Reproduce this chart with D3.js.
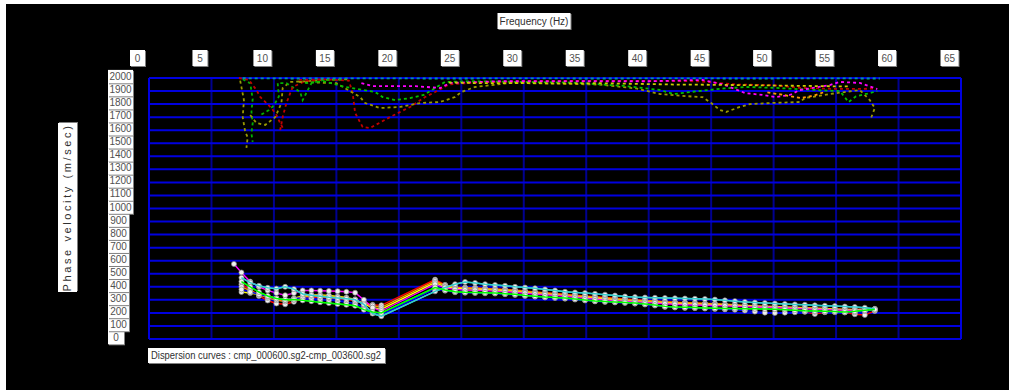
<!DOCTYPE html>
<html>
<head>
<meta charset="utf-8">
<script src="https://cdn.jsdelivr.net/npm/d3@7/dist/d3.min.js"></script>
<style>
  html, body { margin: 0; padding: 0; background: #fff; }
  svg { display: block; }
  text { font-family: "Liberation Sans Narrow", "Liberation Sans", Arial, sans-serif; }
</style>
</head>
<body>
<script>
// ---- axis ticks ----
const xTicks = [0, 5, 10, 15, 20, 25, 30, 35, 40, 45, 50, 55, 60, 65];
const yTicks = [0, 100, 200, 300, 400, 500, 600, 700, 800, 900, 1000,
                1100, 1200, 1300, 1400, 1500, 1600, 1700, 1800, 1900, 2000];

// ---- fundamental-mode dispersion curves (one per CMP) ----
const lowFreq = [6.8, 7.4, 8.1, 8.8, 9.5, 10.2, 10.9, 11.6, 12.3, 13.0, 13.7, 14.4, 15.1, 15.8, 16.5, 17.2, 17.9, 18.6];
const highFreq = [22.9, 23.7, 24.5, 25.3, 26.1, 26.9, 27.7, 28.5, 29.3, 30.1, 30.9, 31.7, 32.5, 33.3, 34.1,
                  34.9, 35.7, 36.5, 37.3, 38.1, 38.9, 39.7, 40.5, 41.3, 42.1, 42.9, 43.7, 44.5, 45.3, 46.1,
                  46.9, 47.7, 48.5, 49.3, 50.1, 50.9, 51.7, 52.5, 53.3, 54.1, 54.9, 55.7, 56.5, 57.3, 58.1];

const cmpNames = ["cmp_000600", "cmp_001100", "cmp_001600", "cmp_002100", "cmp_003100", "cmp_003600", "cmp_002600"];
const cmpColors = ["#ff0000", "#ff9900", "#ffff00", "#ff00ff", "#0000ff", "#33cccc", "#00ff00"];

const lowVel = [
  [null, 420, 380, 330, 295, 272, 266, 285, 310, 318, 320, 316, 310, 304, 292, 275, 262, 258],
  [null, 400, 370, 340, 315, 298, 288, 300, 322, 330, 330, 325, 318, 310, 298, 272, 255, 243],
  [null, 360, 352, 342, 328, 312, 302, 312, 330, 338, 338, 334, 326, 318, 304, 268, 240, 228],
  [575, 510, 440, 400, 372, 352, 335, 352, 372, 372, 370, 368, 366, 362, 355, 300, 240, 214],
  [null, 380, 360, 342, 325, 310, 300, 310, 315, 310, 305, 298, 290, 282, 272, 240, 200, 186],
  [null, 470, 432, 408, 392, 386, 400, 382, 345, 336, 328, 320, 314, 308, 300, 265, 195, 175],
  [null, 440, 400, 360, 330, 310, 300, 302, 296, 290, 282, 275, 268, 262, 255, 225, 207, 200]
];

const highVel = [
  [455, 415, 398, 394, 392, 388, 384, 380, 375, 368, 361, 355, 349, 343, 336, 330, 324, 318, 312, 306, 301, 297, 292, 286, 282,
   279, 276, 272, 268, 263, 258, 253, 248, 243, 238, 232, 225, 210, 192, 205, 215, 205, 190, 184, 215],
  [445, 410, 395, 392, 390, 386, 382, 378, 372, 365, 358, 352, 346, 340, 332, 326, 320, 314, 308, 302, 298, 294, 290, 284, 280,
   278, 275, 272, 270, 266, 262, 258, 255, 252, 249, 246, 243, 240, 237, 234, 231, 228, 226, 228, 230],
  [432, 400, 388, 384, 382, 378, 374, 370, 364, 357, 350, 344, 338, 332, 324, 318, 312, 306, 300, 295, 290, 286, 282, 276, 272,
   270, 267, 265, 262, 259, 256, 253, 250, 247, 245, 242, 239, 236, 233, 230, 227, 224, 222, 225, 228],
  [420, 392, 380, 376, 374, 371, 367, 363, 358, 351, 345, 339, 334, 328, 320, 313, 306, 300, 294, 289, 285, 281, 276, 270, 266,
   263, 261, 259, 257, 254, 251, 248, 245, 243, 241, 238, 235, 232, 229, 226, 223, 220, 218, 222, 227],
  [385, 370, 358, 354, 352, 350, 348, 343, 338, 330, 324, 318, 314, 309, 302, 295, 288, 284, 280, 276, 271, 264, 256, 246, 241,
   238, 236, 233, 230, 227, 224, 218, 210, 202, 200, 202, 205, 208, 208, 207, 205, 203, 204, 215, 222],
  [365, 395, 420, 437, 430, 420, 414, 408, 400, 394, 388, 380, 372, 362, 357, 352, 346, 340, 333, 326, 321, 318, 316, 314, 312,
   310, 308, 306, 302, 296, 290, 284, 279, 275, 272, 268, 265, 262, 258, 255, 252, 249, 245, 240, 231],
  [395, 375, 362, 358, 356, 354, 352, 347, 342, 334, 328, 322, 318, 314, 306, 299, 292, 288, 284, 280, 275, 268, 260, 250, 245,
   243, 241, 238, 236, 234, 233, 232, 231, 230, 228, 225, 220, 216, 214, 212, 210, 207, 212, 220, 226]
];

// ---- higher-mode / noise picks (dashed) ----
const modeColors = ["#999900", "#00b000", "#c00000", "#999900", "#00b000", "#c00000",
                    "#c00000", "#999900", "#00c000", "#ff00ff", "#009999", "#cccc00", "#ff9900"];
const modeFreq = [
  [7.3, 7.4, 7.6, 7.5, 7.7, 7.9, 7.8],
  [7.5, 8.1, 8.3, 8.2, 8.3, 8.2, 8.3],
  [7.2, 8.0, 8.6, 8.9, 9.4, 9.8, 10.2, 10.5, 10.7],
  [8.1, 8.6, 9.3, 10.1, 10.6, 10.7, 11.3, 12.5, 14.0, 16.0],
  [9.0, 9.6, 10.0, 10.4, 10.3, 11.0, 12.1, 12.3, 13.0, 14.0, 15.7],
  [10.5, 10.7, 11.0, 11.5, 12.5, 14.0],
  [12.0, 14.0, 16.0, 16.3, 16.5, 17.1, 17.7, 19.3, 20.9, 22.1, 22.9, 24.0, 26.0, 30.0, 35.0, 40.0, 44.0, 47.0, 50.0, 52.0, 55.0, 57.0, 58.2],
  [12.0, 15.0, 16.9, 17.3, 18.5, 20.1, 21.7, 23.3, 24.5, 25.0, 26.1, 28.9, 32.0, 36.0, 39.0, 40.9, 44.0, 44.3, 45.0, 45.7, 46.2,
   47.3, 48.1, 49.7, 52.1, 52.5, 54.5, 56.9, 57.7, 58.1, 57.8],
  [12.5, 14.0, 15.7, 18.1, 18.7, 19.7, 20.9, 22.0, 22.9, 23.7, 26.0, 30.0, 34.0, 36.9, 38.0, 40.9, 42.0, 44.0, 46.0, 47.8, 50.0,
   52.0, 54.0, 55.3, 56.0, 56.6, 57.5, 58.3],
  [17.0, 17.9, 19.5, 21.3, 23.3, 24.1, 28.0, 32.0, 36.0, 40.0, 44.3, 46.0, 47.7, 49.1, 50.2, 51.3, 52.1, 54.5, 55.3, 56.9, 58.3],
  [7.5, 12.0, 18.0, 24.0, 30.0, 36.0, 42.0, 48.0, 54.0, 58.5],
  [24.0, 27.0, 30.0, 33.0, 36.0, 39.0, 42.0, 45.0, 48.0, 52.0, 56.0],
  [49.5, 50.8, 52.2, 53.2, 54.0]
];
const modeVel = [
  [1980, 1930, 1830, 1700, 1590, 1545, 1465],
  [1990, 1960, 1840, 1740, 1655, 1575, 1510],
  [2000, 1985, 1908, 1855, 1808, 1770, 1716, 1655, 1620],
  [1716, 1655, 1640, 1700, 1808, 1923, 1970, 1975, 1985, 1990],
  [1720, 1755, 1790, 1860, 1962, 1960, 1893, 1830, 1960, 1985, 1990],
  [1600, 1700, 1808, 1931, 1975, 1990],
  [1985, 1990, 1980, 1885, 1732, 1625, 1617, 1701, 1778, 1854, 1893, 1950, 1965, 1975, 1978, 1977, 1975, 1950, 1945, 1925, 1916, 1916, 1920],
  [1970, 1960, 1854, 1808, 1770, 1778, 1808, 1816, 1854, 1893, 1931, 1962, 1958, 1950, 1920, 1877, 1854, 1854, 1808, 1755, 1740,
   1778, 1800, 1808, 1816, 1846, 1877, 1908, 1831, 1770, 1693],
  [1960, 1975, 1931, 1893, 1854, 1831, 1846, 1870, 1923, 1970, 1975, 1970, 1965, 1946, 1940, 1908, 1877, 1900, 1920, 1931, 1925,
   1915, 1905, 1900, 1816, 1860, 1880, 1900],
  [1960, 1938, 1938, 1938, 1923, 1962, 1975, 1975, 1975, 1975, 1985, 1950, 1885, 1870, 1854, 1870, 1908, 1946, 1970, 1962, 1915],
  [1998, 1996, 1997, 1996, 1997, 1996, 1997, 1996, 1997, 1996],
  [1965, 1960, 1962, 1958, 1960, 1955, 1950, 1948, 1945, 1940, 1935],
  [1890, 1870, 1846, 1865, 1890]
];

const titleText = "Frequency (Hz)";
const yTitleText = "Phase velocity (m/sec)";
const captionText = "Dispersion curves : cmp_000600.sg2-cmp_003600.sg2";

// ---- layout ----
const W = 1011, H = 392;
const svg = d3.select("body").append("svg").attr("width", W).attr("height", H);

svg.append("rect").attr("width", W).attr("height", H).attr("fill", "#ffffff");
svg.append("rect").attr("x", 6).attr("y", 4).attr("width", W - 8).attr("height", H - 6).attr("fill", "#000000");

const x = d3.scaleLinear().domain([0, 65]).range([149, 961]);
const y = d3.scaleLinear().domain([0, 2000]).range([339, 78]);

// grid
const grid = svg.append("g");
grid.selectAll("line.v").data(xTicks).join("line")
  .attr("x1", d => x(d)).attr("x2", d => x(d))
  .attr("y1", y(2000)).attr("y2", y(0))
  .attr("stroke", (d, i) => (i === 0 || i === xTicks.length - 1) ? "#0000e0" : "#000090")
  .attr("stroke-width", 2);
grid.selectAll("line.h").data(yTicks).join("line")
  .attr("x1", x(0)).attr("x2", x(65))
  .attr("y1", d => y(d)).attr("y2", d => y(d))
  .attr("stroke", "#0000e0")
  .attr("stroke-width", 2);

// top axis labels in white boxes
const xAxis = svg.append("g").attr("transform", "translate(0,58)")
  .call(d3.axisTop(x).tickValues(xTicks).tickSize(0).tickPadding(0).tickFormat(d3.format("d")));
xAxis.select(".domain").remove();
xAxis.selectAll(".tick").each(function(d) {
  const g = d3.select(this);
  const w = String(d).length > 1 ? 18 : 15;
  g.insert("rect", "text").attr("x", -12 - w / 2 + 1).attr("y", -7).attr("width", w).attr("height", 16).attr("fill", "#808080");
  g.insert("rect", "text").attr("x", -12 - w / 2).attr("y", -8).attr("width", w).attr("height", 16).attr("fill", "#ffffff");
  g.select("text").attr("x", -12).attr("y", 0).attr("dy", "0.35em")
    .attr("text-anchor", "middle").attr("fill", "#505050").attr("font-size", 10);
});

// left axis labels in a white column
const yAxis = svg.append("g").attr("transform", "translate(120,-2)")
  .call(d3.axisLeft(y).tickValues(yTicks).tickSize(0).tickPadding(0).tickFormat(d3.format("d")));
yAxis.select(".domain").remove();
yAxis.selectAll(".tick").each(function(d) {
  const g = d3.select(this);
  const len = String(d).length;
  const w = len === 4 ? 25 : (len === 3 ? 21 : 16);
  g.insert("rect", "text").attr("x", -12 + 1).attr("y", -6.6 + 1).attr("width", w).attr("height", 13.4).attr("fill", "#808080");
  g.insert("rect", "text").attr("x", -12).attr("y", -6.6).attr("width", w).attr("height", 13.4).attr("fill", "#ffffff");
  g.select("text").attr("x", -12 + w / 2).attr("dy", "0.35em")
    .attr("text-anchor", "middle").attr("fill", "#505050").attr("font-size", 10);
});

// titles
function boxedLabel(cx, cy, w, h, txt, rotate, opts) {
  const g = svg.append("g").attr("transform", `translate(${cx},${cy}) rotate(${rotate})`);
  g.append("rect").attr("x", -w / 2 + 1).attr("y", -h / 2 + 1).attr("width", w).attr("height", h).attr("fill", "#808080");
  g.append("rect").attr("x", -w / 2).attr("y", -h / 2).attr("width", w).attr("height", h).attr("fill", "#ffffff");
  const t = g.append("text").attr("x", opts.anchor === "start" ? -w / 2 + 3 : 0).attr("y", 0).attr("dy", "0.35em")
    .attr("text-anchor", opts.anchor || "middle").attr("fill", "#303030").attr("font-size", opts.size || 10)
    .text(txt);
  if (opts.spacing) t.attr("letter-spacing", opts.spacing);
  if (opts.fit) t.attr("textLength", opts.fit).attr("lengthAdjust", "spacingAndGlyphs");
  return g;
}
boxedLabel(534, 21, 73, 16, titleText, 0, { size: 10 });
boxedLabel(67.5, 207.5, 169, 19, yTitleText, -90, { size: 11, spacing: 2.6 });
boxedLabel(266.5, 355.5, 237, 15, captionText, 0, { size: 10, anchor: "start", fit: 230 });

// dashed higher modes
const line = d3.line().defined(d => d[1] != null).x(d => x(d[0])).y(d => y(d[1]));
const modes = svg.append("g").attr("fill", "none").attr("stroke-width", 1.8).attr("stroke-dasharray", "3,3");
modeFreq.forEach((fs, i) => {
  modes.append("path")
    .attr("d", line(fs.map((f, j) => [f, modeVel[i][j]])))
    .attr("stroke", modeColors[i]);
});

// fundamental-mode curves: lines, picked points, then the outer two curves on top
const curves = svg.append("g").attr("fill", "none").attr("stroke-width", 1.4);
const allPts = [];
const curvePts = cmpNames.map((name, i) => {
  const pts = lowFreq.map((f, j) => [f, lowVel[i][j]]).concat(highFreq.map((f, j) => [f, highVel[i][j]]))
    .filter(p => p[1] != null);
  curves.append("path").attr("d", line(pts)).attr("stroke", cmpColors[i]).attr("data-cmp", name);
  pts.forEach(p => allPts.push(p));
  return pts;
});
svg.append("g").selectAll("circle").data(allPts).join("circle")
  .attr("cx", d => x(d[0])).attr("cy", d => y(d[1])).attr("r", 2.5)
  .attr("fill", "#f2f2f2").attr("stroke", "#8a8a8a").attr("stroke-width", 0.7);
const topCurves = svg.append("g").attr("fill", "none").attr("stroke-width", 1.5);
[5, 6].forEach(i => {
  topCurves.append("path").attr("d", line(curvePts[i])).attr("stroke", cmpColors[i]);
});
</script>
</body>
</html>
